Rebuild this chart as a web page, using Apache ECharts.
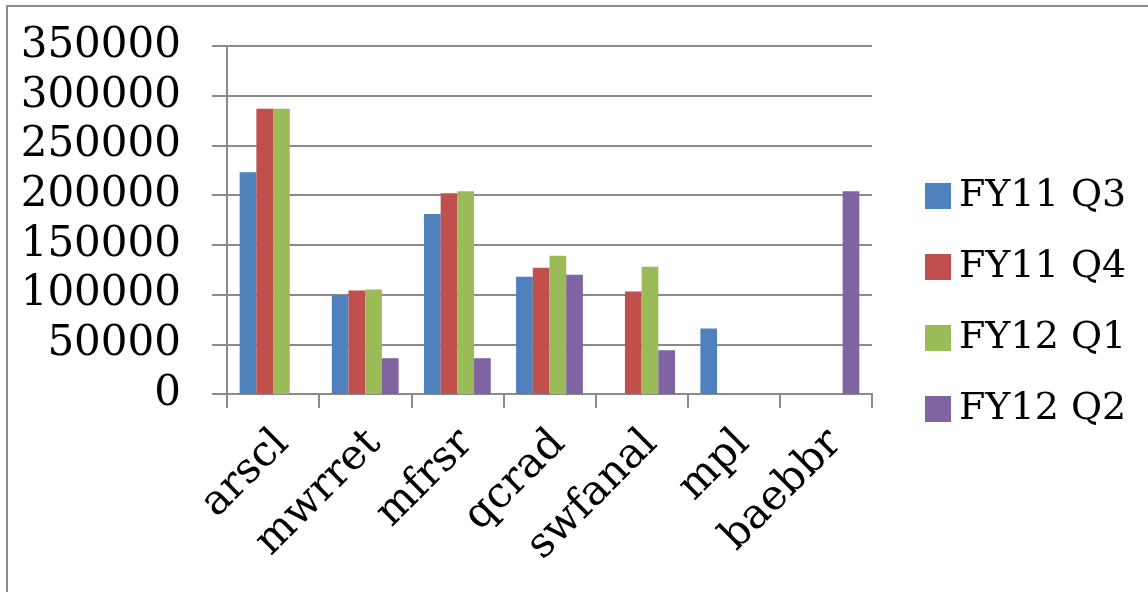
<!DOCTYPE html>
<html>
<head>
<meta charset="utf-8">
<script src="https://cdn.jsdelivr.net/npm/echarts@6/dist/echarts.min.js"></script>
<style>
  html, body { margin: 0; padding: 0; background: #ffffff; }
  #chart { width: 1148px; height: 592px; }
</style>
</head>
<body>
<div id="chart"></div>
<script>
// Products per quarter
const categories = ['arscl', 'mwrret', 'mfrsr', 'qcrad', 'swfanal', 'mpl', 'baebbr'];
const seriesNames = ['FY11 Q3', 'FY11 Q4', 'FY12 Q1', 'FY12 Q2'];
const fy11q3 = [223000, 99500, 181000, 118000, null, 66000, null];
const fy11q4 = [287000, 104000, 202000, 127000, 103000, null, null];
const fy12q1 = [287000, 105000, 204000, 139000, 128000, null, null];
const fy12q2 = [null, 36000, 36000, 120000, 44000, null, 204000];
const yTicks = { min: 0, max: 350000, interval: 50000 };

const colors = ['#4f81bd', '#c0504d', '#9bbb59', '#8064a2'];
const values = [fy11q3, fy11q4, fy12q1, fy12q2];
const FONT = '"DejaVu Serif", "Liberation Serif", serif';
const GRAY = '#8a8a8a';

const chart = echarts.init(document.getElementById('chart'), null, { renderer: 'canvas' });

chart.setOption({
  animation: false,
  backgroundColor: '#ffffff',
  color: colors,
  graphic: [{
    type: 'rect',
    shape: { x: 7, y: 6, width: 1300, height: 800 },
    style: { fill: 'none', stroke: GRAY, lineWidth: 2 },
    silent: true
  }],
  grid: { left: 227, right: 276, top: 46, bottom: 198, containLabel: false },
  legend: {
    orient: 'vertical',
    left: 920,
    top: 171,
    icon: 'rect',
    itemWidth: 26,
    itemHeight: 26,
    itemGap: 31,
    data: seriesNames,
    textStyle: { fontFamily: FONT, fontSize: 38, color: '#000', lineHeight: 40, padding: [0, 0, 0, 3] }
  },
  xAxis: {
    type: 'category',
    data: categories,
    axisLine: { show: true, lineStyle: { color: GRAY, width: 2 } },
    axisTick: { show: true, length: 14, alignWithLabel: false, lineStyle: { color: GRAY, width: 2 } },
    axisLabel: {
      interval: 0, rotate: 45, margin: 34, fontFamily: FONT, fontSize: 42, color: '#000',
      verticalAlign: 'top', lineHeight: 26
    },
    splitLine: { show: false }
  },
  yAxis: {
    type: 'value',
    min: yTicks.min,
    max: yTicks.max,
    interval: yTicks.interval,
    axisLine: { show: true, lineStyle: { color: GRAY, width: 2 } },
    axisTick: { show: true, length: 15, lineStyle: { color: GRAY, width: 2 } },
    axisLabel: {
      margin: 46, fontFamily: FONT, fontSize: 42, color: '#000',
      showMinLabel: true, showMaxLabel: true, hideOverlap: false,
      formatter: (v) => String(v)
    },
    splitLine: { show: true, lineStyle: { color: GRAY, width: 2 } }
  },
  series: seriesNames.map((name, i) => ({
    name: name,
    type: 'bar',
    data: values[i],
    barGap: '0%',
    barCategoryGap: '27.5%',
    itemStyle: { color: colors[i] }
  }))
});
</script>
</body>
</html>
